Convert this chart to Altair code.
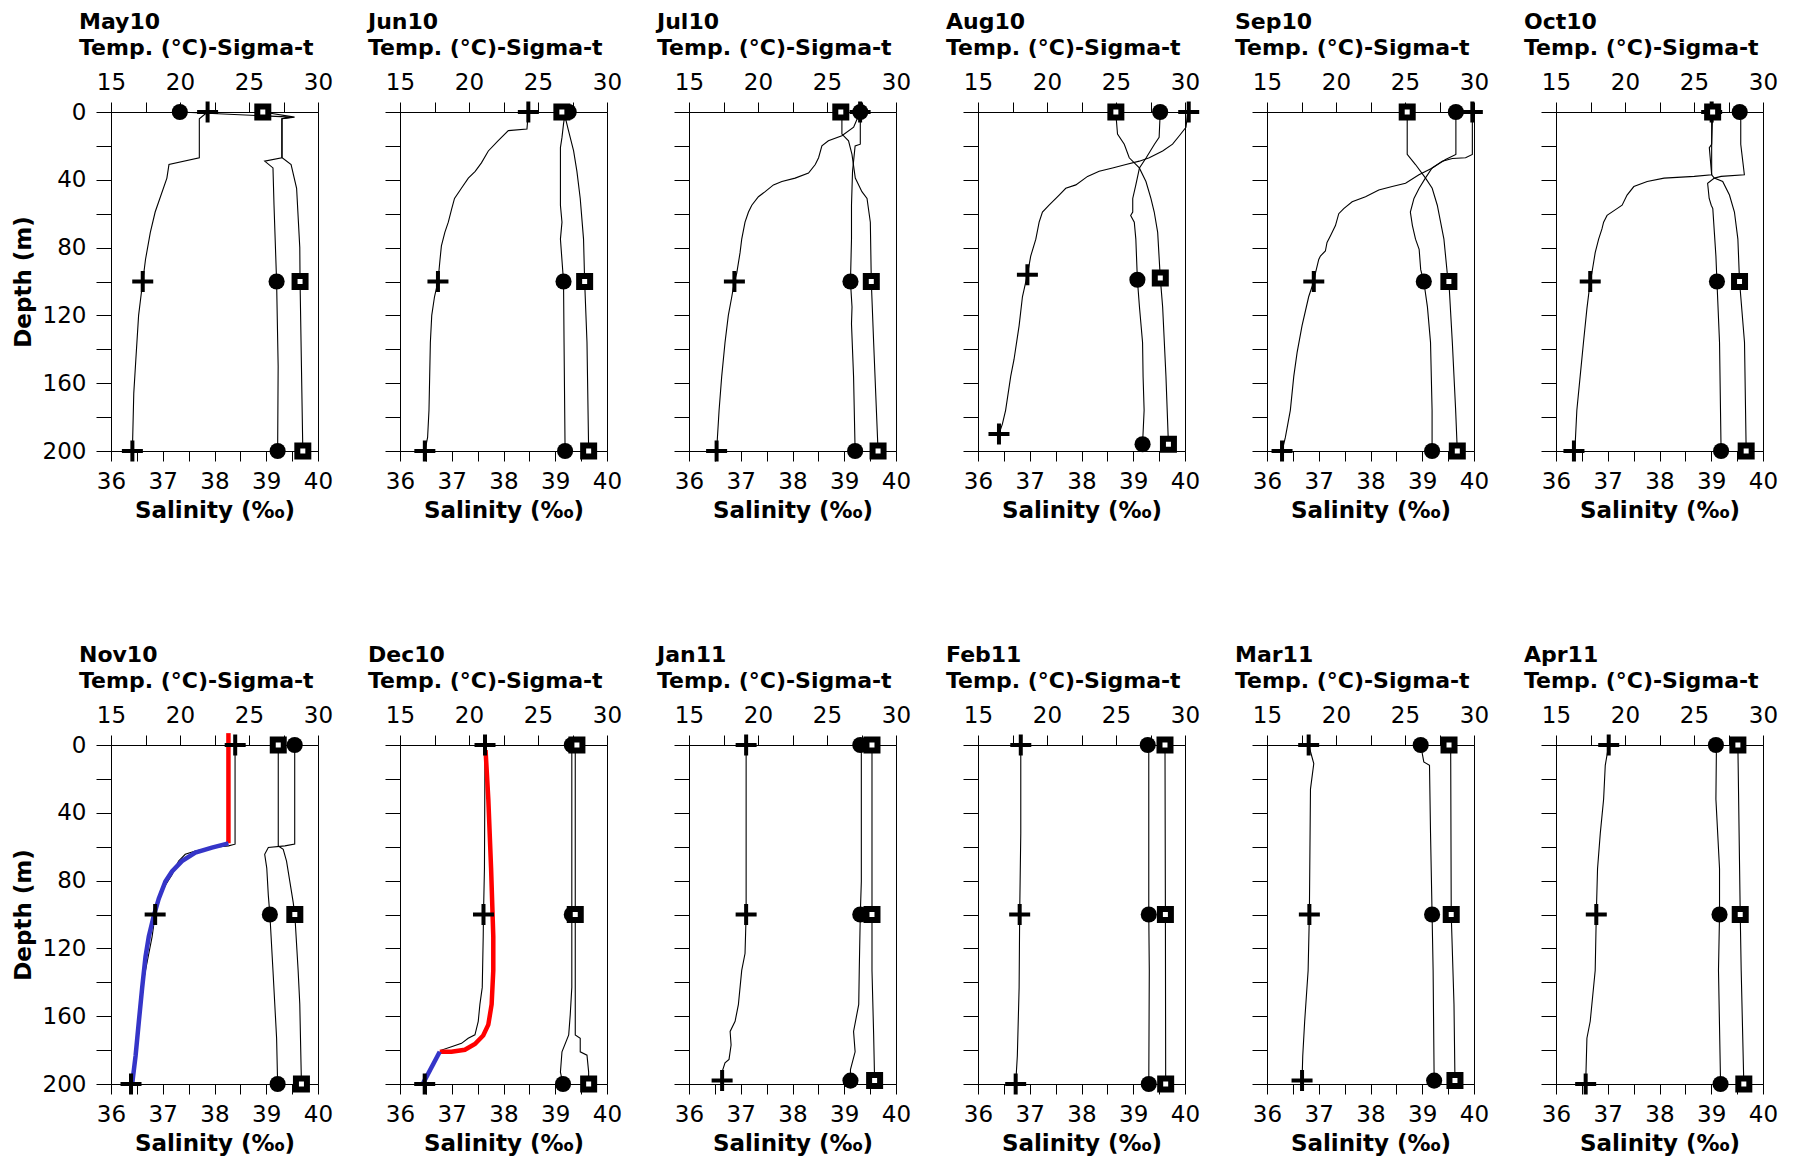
import altair as alt
import pandas as pd

FONT = "DejaVu Sans"

# ---- profiles: (depth m, value) ----
MAY10_TEMP = [(0,22.0),(4,21.4),(27,21.4),(31,19.2),(39,19.05),(59,18.2),(71,17.85),(87,17.5),(100,17.3),(120,17.0),(146,16.8),(166,16.65),(200,16.55)]
MAY10_SAL = [(0,37.33),(3,39.49),(4,39.3),(27,39.3),(29,38.97),(33,39.13),(55,39.15),(100,39.2),(150,39.23),(200,39.22)]
MAY10_SIG = [(0,26.0),(3,28.3),(4,27.4),(27,27.4),(31,28.05),(45,28.45),(80,28.68),(100,28.7),(150,28.8),(200,28.9)]

JUN10_TEMP = [(0,24.3),(10,24.2),(11,22.85),(17,22.1),(23,21.4),(30,20.9),(35,20.45),(39,19.95),(45,19.45),(51,18.95),(57,18.75),(65,18.5),(71,18.25),(79,18.0),(87,17.9),(100,17.75),(109,17.5),(120,17.3),(136,17.2),(156,17.15),(176,17.1),(192,17.0),(200,16.8)]
JUN10_SAL = [(0,39.26),(1,39.19),(7,39.16),(15,39.13),(21,39.1),(39,39.1),(55,39.1),(65,39.13),(75,39.1),(100,39.16),(136,39.17),(200,39.19)]
JUN10_SIG = [(0,26.73),(4,27.0),(11,27.21),(23,27.58),(35,27.82),(51,28.06),(75,28.3),(100,28.38),(136,28.55),(200,28.67)]

JUL10_TEMP = [(0,27.4),(9,26.93),(14,26.08),(17,25.1),(20,24.63),(27,24.39),(31,24.15),(36,23.66),(39,22.69),(41,21.73),(43,21.12),(47,20.52),(50,20.03),(55,19.55),(59,19.31),(65,19.06),(75,18.82),(83,18.7),(95,18.46),(100,18.29),(109,18.1),(120,17.85),(136,17.61),(156,17.37),(176,17.18),(200,17.0)]
JUL10_SAL = [(0,39.31),(1,39.31),(19,39.31),(20,39.21),(35,39.16),(55,39.14),(75,39.14),(100,39.12),(115,39.15),(125,39.14),(156,39.18),(200,39.21)]
JUL10_SIG = [(0,26.0),(1,26.08),(13,26.08),(17,26.56),(25,26.81),(39,27.05),(47,27.53),(51,27.9),(65,28.14),(100,28.21),(136,28.38),(200,28.7)]

AUG10_TEMP = [(0,30.27),(1,30.19),(9,30.07),(14,29.59),(19,29.1),(23,28.38),(27,27.41),(29,26.69),(31,25.72),(33,24.75),(35,23.78),(38,22.94),(43,22.09),(45,21.36),(49,20.88),(55,20.15),(59,19.67),(65,19.43),(75,19.19),(85,18.82),(96,18.58),(109,18.22),(126,17.98),(146,17.61),(156,17.37),(176,17.0),(184,16.77),(190,16.52)]
AUG10_SAL = [(0,39.52),(1,39.52),(15,39.5),(19,39.41),(27,39.25),(33,39.12),(43,39.05),(51,38.99),(59,38.99),(61,38.95),(65,39.02),(75,39.05),(99,39.08),(115,39.12),(136,39.18),(156,39.19),(176,39.21),(196,39.18)]
AUG10_SIG = [(0,24.99),(1,24.99),(13,25.11),(19,25.6),(27,25.96),(33,26.69),(41,27.17),(51,27.53),(59,27.77),(71,28.02),(98,28.21),(115,28.38),(156,28.62),(196,28.8)]

SEP10_TEMP = [(0,29.88),(1,29.88),(25,29.88),(27,29.39),(27.4,28.43),(29,27.7),(33,26.98),(37,26.01),(42,25.04),(44,24.07),(46,23.1),(50,22.14),(53,21.17),(57,20.56),(60,20.2),(67,19.96),(73,19.6),(77,19.35),(82,19.23),(85,18.87),(87,18.75),(95,18.51),(100,18.39),(109,18.02),(126,17.54),(142,17.18),(156,16.94),(176,16.69),(192,16.33),(200,16.09)]
SEP10_SAL = [(0,39.65),(1,39.65),(25,39.65),(28,39.45),(33,39.19),(39,39.06),(45,38.94),(51,38.84),(59,38.77),(67,38.81),(75,38.87),(81,38.94),(93,38.97),(100,39.03),(115,39.1),(136,39.16),(176,39.19),(200,39.19)]
SEP10_SIG = [(0,25.16),(1,25.16),(25,25.16),(31,25.76),(39,26.49),(45,26.97),(55,27.34),(65,27.58),(75,27.82),(95,28.06),(100,28.18),(136,28.43),(176,28.67),(200,28.79)]

OCT10_TEMP = [(0,26.28),(37,26.28),(38,25.02),(39,22.83),(41,21.61),(44,20.64),(49,20.15),(55,19.79),(57,19.42),(61,18.7),(65,18.45),(69,18.33),(75,18.09),(83,17.84),(95,17.6),(100,17.48),(116,17.24),(136,16.99),(156,16.75),(176,16.51),(196,16.39),(200,16.3)]
OCT10_SAL = [(0,39.55),(1,39.57),(19,39.57),(37,39.64),(38,39.19),(39,39.06),(42,38.93),(51,38.96),(55,39.0),(57,39.03),(71,39.06),(85,39.09),(100,39.11),(136,39.16),(200,39.19)]
OCT10_SIG = [(0,26.35),(1,26.35),(19,26.28),(21,26.11),(37,26.28),(39,26.47),(41,27.08),(49,27.57),(59,27.93),(75,28.18),(100,28.3),(136,28.66),(200,28.78)]

NOV10_TEMP = [(0,24.0),(1,23.99),(58.5,23.99),(59.5,23.51),(60.5,22.31),(62.5,21.11),(64.5,20.38),(68.5,19.9),(72.6,19.66),(76.6,19.42),(82.7,18.94),(86.7,18.7),(92.7,18.46),(100,18.2),(113,17.98),(123,17.74),(133,17.5),(143,17.26),(163,17.02),(183.5,16.78),(200,16.45)]
NOV10_SAL = [(0,39.55),(58.5,39.55),(59.5,39.36),(60.5,39.04),(64.5,38.97),(72.6,39.01),(88.7,39.04),(100,39.07),(133,39.13),(173,39.2),(200,39.22)]
NOV10_SIG = [(0,27.12),(59.5,27.12),(61.5,27.48),(68.5,27.72),(80.6,27.96),(92.7,28.2),(100,28.32),(133,28.56),(153,28.68),(200,28.8)]
NOV10_RED = [(-7,23.51),(58,23.51)]
NOV10_BLUE = [(58,23.51),(60.5,22.31),(63.5,21.11),(68.5,20.14),(74.6,19.42),(80.6,18.94),(90.7,18.46),(100.8,18.1),(113,17.74),(125,17.5),(143,17.26),(163,17.02),(183.5,16.78),(199.6,16.54)]

DEC10_TEMP = [(0,21.16),(72.6,21.12),(100,21.05),(113,21.03),(143,20.96),(153,20.79),(163,20.67),(171,20.43),(173,19.94),(176,19.46),(178,18.73),(180,18.0),(185.5,17.52),(191.5,17.16),(200,16.79)]
DEC10_SAL = [(0,39.32),(100,39.32),(143,39.32),(159,39.29),(171,39.26),(181,39.13),(193,39.1),(200,39.15)]
DEC10_SIG = [(0,27.82),(1,27.7),(100,27.7),(171,27.7),(173,28.06),(181,28.06),(183,28.55),(193,28.67),(200,28.67)]
DEC10_RED = [(3,21.2),(32,21.4),(72.6,21.6),(113,21.76),(133,21.76),(153,21.64),(165,21.4),(171.4,21.03),(176.4,20.43),(179.8,19.7),(181,18.73),(181,17.88)]
DEC10_BLUE = [(181,17.88),(199.6,16.67)]

JAN11_TEMP = [(0,19.14),(100,19.14),(123,19.06),(133,18.82),(143,18.7),(153,18.58),(163,18.34),(169,17.98),(177,18.05),(185.5,17.9),(187.5,17.61),(193.5,17.37),(198,17.4)]
JAN11_SAL = [(0,39.31),(1,39.33),(80.6,39.33),(100,39.31),(133,39.29),(153,39.28),(169,39.18),(181,39.21),(191.5,39.12),(198,39.12)]
JAN11_SIG = [(0,28.26),(100,28.26),(133,28.26),(171,28.38),(198,28.45)]

FEB11_TEMP = [(0,18.1),(52,18.1),(100,18.02),(143,17.98),(183.5,17.85),(200,17.73)]
FEB11_SAL = [(0,39.28),(1,39.3),(100,39.3),(133,39.31),(200,39.3)]
FEB11_SIG = [(0,28.55),(100,28.58),(200,28.6)]

MAR11_TEMP = [(0,18.02),(11,18.39),(26,18.15),(100,18.07),(133,17.98),(163,17.73),(183.5,17.59),(198,17.54)]
MAR11_SAL = [(0,38.97),(10,39.03),(12,39.14),(52,39.16),(100,39.19),(133,39.21),(198,39.23)]
MAR11_SIG = [(0,28.19),(1,28.31),(100,28.35),(153,28.55),(198,28.62)]

APR11_TEMP = [(0,18.82),(12,18.57),(32,18.45),(52,18.21),(73,18.01),(100,17.92),(133,17.84),(163,17.48),(173,17.24),(200,17.15)]
APR11_SAL = [(0,39.09),(1,39.1),(32,39.09),(73,39.16),(100,39.16),(133,39.14),(200,39.18)]
APR11_SIG = [(0,28.18),(100,28.35),(133,28.42),(200,28.61)]

MONTHS = ["May10", "Jun10", "Jul10", "Aug10", "Sep10", "Oct10",
          "Nov10", "Dec10", "Jan11", "Feb11", "Mar11", "Apr11"]
TEMPS = [MAY10_TEMP, JUN10_TEMP, JUL10_TEMP, AUG10_TEMP, SEP10_TEMP, OCT10_TEMP,
         NOV10_TEMP, DEC10_TEMP, JAN11_TEMP, FEB11_TEMP, MAR11_TEMP, APR11_TEMP]
SALS = [MAY10_SAL, JUN10_SAL, JUL10_SAL, AUG10_SAL, SEP10_SAL, OCT10_SAL,
        NOV10_SAL, DEC10_SAL, JAN11_SAL, FEB11_SAL, MAR11_SAL, APR11_SAL]
SIGS = [MAY10_SIG, JUN10_SIG, JUL10_SIG, AUG10_SIG, SEP10_SIG, OCT10_SIG,
        NOV10_SIG, DEC10_SIG, JAN11_SIG, FEB11_SIG, MAR11_SIG, APR11_SIG]
FITS = {"Nov10": (NOV10_RED, NOV10_BLUE), "Dec10": (DEC10_RED, DEC10_BLUE)}

TOP_TITLE = "Temp. (°C)-Sigma-t"
TOP_TICKS = [15, 17.5, 20, 22.5, 25, 27.5, 30]
BOT_TICKS = [36, 36.5, 37, 37.5, 38, 38.5, 39, 39.5, 40]
DEPTH_TICKS = list(range(0, 201, 20))

W, H = 207, 339
PLUS = "M-1,0L1,0M0,-1L0,1"
LAB = 23
TIT = 23
HEAD = 22


def df(points):
    return pd.DataFrame({"depth": [p[0] for p in points],
                         "value": [p[1] for p in points],
                         "i": list(range(len(points)))})


def marks(points):
    k100 = min(range(len(points)), key=lambda k: abs(points[k][0] - 100))
    idx = sorted({0, k100, len(points) - 1})
    return df([points[k] for k in idx])


def panel(n):
    name, col = MONTHS[n], n % 6
    yaxis = dict(values=DEPTH_TICKS, tickSize=15, labelFontSize=LAB, labelPadding=10,
                 titleFontSize=TIT, titleFontWeight="bold", titlePadding=7, grid=False)
    if col == 0:
        yaxis.update(labelExpr="datum.value % 40 == 0 ? format(datum.value, 'd') : ''", title="Depth (m)")
    else:
        yaxis.update(labels=False, title="")
    Y = alt.Y("depth:Q", scale=alt.Scale(domain=[0, 200], reverse=True, nice=False, zero=False),
              axis=alt.Axis(**yaxis))
    top_scale = alt.Scale(domain=[15, 30], nice=False, zero=False)
    bot_scale = alt.Scale(domain=[36, 40], nice=False, zero=False)
    top_axis = alt.Axis(orient="top", values=TOP_TICKS, tickSize=10, labelFontSize=LAB, labelPadding=8,
                        labelExpr="datum.value % 5 == 0 ? format(datum.value, 'd') : ''", labelFlush=False,
                        title="", grid=False)
    bot_axis = alt.Axis(orient="bottom", values=BOT_TICKS, tickSize=10, labelFontSize=LAB, labelPadding=9,
                        labelExpr="datum.value % 1 == 0 ? format(datum.value, 'd') : ''", labelFlush=False,
                        title="Salinity (‰)", titleFontSize=TIT, titleFontWeight="bold", titlePadding=6,
                        grid=False)

    def xt(axis=None):
        return alt.X("value:Q", scale=top_scale, axis=axis)

    def xb(axis=None):
        return alt.X("value:Q", scale=bot_scale, axis=axis)

    temp, sal, sig = TEMPS[n], SALS[n], SIGS[n]
    line = dict(color="black", strokeWidth=1.1)
    layers = [
        alt.Chart(df(temp)).mark_line(**line).encode(x=xt(top_axis), y=Y, order="i:Q"),
        alt.Chart(df(sal)).mark_line(**line).encode(x=xb(bot_axis), y=Y, order="i:Q"),
        alt.Chart(df(sig)).mark_line(**line).encode(x=xt(), y=Y, order="i:Q"),
    ]
    if name in FITS:
        red, blue = FITS[name]
        layers.append(alt.Chart(df(red)).mark_line(color="#ff0000", strokeWidth=4.5)
                      .encode(x=xt(), y=Y, order="i:Q"))
        layers.append(alt.Chart(df(blue)).mark_line(color="#3535c8", strokeWidth=4.5)
                      .encode(x=xt(), y=Y, order="i:Q"))
    layers += [
        alt.Chart(marks(temp)).mark_point(shape=PLUS, filled=False, color="black", strokeWidth=4,
                                          size=441, opacity=1).encode(x=xt(), y=Y),
        alt.Chart(marks(sal)).mark_point(shape="circle", filled=True, color="black", size=260,
                                         opacity=1).encode(x=xb(), y=Y),
        alt.Chart(marks(sig)).mark_point(shape="square", filled=True, fill="white", stroke="black",
                                         strokeWidth=6, size=121, opacity=1).encode(x=xt(), y=Y),
    ]
    return alt.layer(*layers).resolve_scale(x="independent").properties(
        width=W, height=H,
        title=alt.TitleParams(text=[name, TOP_TITLE], anchor="start", frame="group", dx=-32,
                              fontSize=HEAD, lineHeight=26, fontWeight="bold", font=FONT,
                              offset=11, color="black"),
    )


chart = alt.concat(*[panel(n) for n in range(12)], columns=6,
                   spacing={"row": 294, "column": 82}, bounds="flush").properties(
    padding={"left": 3, "top": 2, "right": 2, "bottom": 0},
    background="white",
).configure_view(stroke="black", strokeWidth=1).configure_axis(
    labelFont=FONT, titleFont=FONT, labelColor="black", titleColor="black",
    domainColor="black", tickColor="black", domainWidth=1, tickWidth=1,
).configure_title(font=FONT)

chart.save("out.html", embed_options={"renderer": "svg", "actions": False})
